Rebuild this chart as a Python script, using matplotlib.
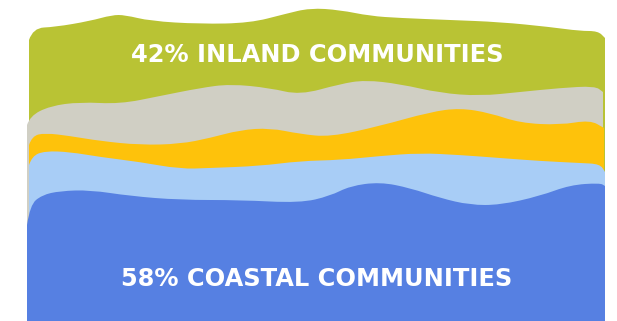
import matplotlib
matplotlib.use("Agg")
import matplotlib.pyplot as plt
from matplotlib.path import Path
from matplotlib.patches import PathPatch

W, H = 617, 321

# top edge of each wavy band (pixel coords, y measured from top)
green_x = [29, 33, 55, 90, 112, 125, 150, 200, 250, 285, 310, 340, 370, 400, 450, 500, 550, 580, 598, 605]
green_y = [40, 28, 27, 21, 15, 15, 21, 24, 23, 14, 8, 10, 16, 18, 20, 22, 27, 31, 31, 38]

gray_x = [27, 30, 50, 80, 120, 160, 200, 230, 270, 300, 340, 365, 400, 440, 480, 520, 560, 595, 603]
gray_y = [125, 116, 106, 102, 104, 96, 88, 84, 88, 95, 84, 80, 84, 93, 96, 92, 88, 86, 92]

yellow_x = [29, 32, 45, 70, 100, 140, 180, 210, 240, 270, 300, 330, 380, 430, 460, 490, 520, 560, 590, 604]
yellow_y = [145, 136, 133, 136, 141, 145, 144, 138, 130, 128, 134, 137, 126, 112, 108, 113, 123, 125, 120, 128]

lblue_x = [29, 32, 45, 70, 100, 140, 180, 210, 260, 300, 340, 380, 420, 460, 500, 540, 580, 600, 605]
lblue_y = [165, 156, 151, 152, 157, 162, 169, 168, 166, 161, 160, 156, 153, 155, 158, 161, 163, 164, 172]

blue_x = [27, 30, 42, 60, 90, 130, 180, 240, 300, 330, 350, 380, 410, 440, 470, 500, 540, 570, 600, 605]
blue_y = [225, 205, 195, 191, 190, 196, 200, 200, 203, 196, 186, 182, 188, 198, 205, 205, 196, 185, 183, 186]

colors = ["#b9c334", "#d0cfc4", "#fec20b", "#a8cdf6", "#5680e2"]
labels = ["42% INLAND COMMUNITIES", "58% COASTAL COMMUNITIES"]
label_y = [52, 276]


def band(xs, ys, color):
    # smooth top edge: quadratic curves through midpoints
    verts = [(xs[0], H), (xs[0], ys[0])]
    codes = [Path.MOVETO, Path.LINETO]
    for i in range(1, len(xs) - 1):
        mx = (xs[i] + xs[i + 1]) / 2
        my = (ys[i] + ys[i + 1]) / 2
        verts += [(xs[i], ys[i]), (mx, my)]
        codes += [Path.CURVE3, Path.CURVE3]
    verts += [(xs[-1], ys[-1]), (xs[-1], H), (xs[0], H)]
    codes += [Path.LINETO, Path.LINETO, Path.CLOSEPOLY]
    return PathPatch(Path(verts, codes), facecolor=color, edgecolor="none")


fig = plt.figure(figsize=(W / 100, H / 100), dpi=100)
ax = fig.add_axes([0, 0, 1, 1])
ax.set_xlim(0, W)
ax.set_ylim(H, 0)
ax.axis("off")

layers = [(green_x, green_y), (gray_x, gray_y), (yellow_x, yellow_y),
          (lblue_x, lblue_y), (blue_x, blue_y)]
for (xs, ys), c in zip(layers, colors):
    ax.add_patch(band(xs, ys, c))

for t, y in zip(labels, label_y):
    ax.text(317, y, t, ha="center", va="center_baseline", color="white",
            fontsize=17.4, fontweight="bold", family="DejaVu Sans")

fig.savefig("out.png", dpi=100)
